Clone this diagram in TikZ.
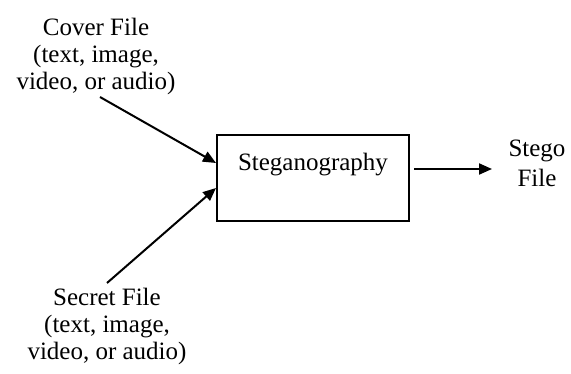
\documentclass[tikz,border=0pt]{standalone}
\usepackage{fontspec}
\setmainfont{Liberation Serif}
\usetikzlibrary{arrows.meta}
\begin{document}
\begin{tikzpicture}[x=1pt,y=-1pt,
  lbl/.style={align=center,font=\fontsize{25}{27}\selectfont,inner sep=0pt},
  conn/.style={line width=2pt,-{Triangle[length=13pt,width=11pt]}}]
\useasboundingbox (0,0) rectangle (571,374);
\node[draw,line width=1.5pt,minimum width=192pt,minimum height=86pt,inner sep=0pt] (box) at (313,178) {};
\node[lbl] (steg) at (313,165) {Steganography};
\node[lbl] (cover) at (96,56) {Cover File\\(text, image,\\video, or audio)};
\node[lbl] (secret) at (107,326) {Secret File\\(text, image,\\video, or audio)};
\node[lbl,font=\fontsize{25}{30}\selectfont] (stego) at (537,163) {Stego\\File};
\coordinate (c0) at (100,97);
\coordinate (c1) at (216,163);
\coordinate (s0) at (107,283);
\coordinate (s1) at (216,188);
\coordinate (o0) at (414,169);
\coordinate (o1) at (492,169);
\draw[conn] (c0) -- (c1);
\draw[conn] (s0) -- (s1);
\draw[conn] (o0) -- (o1);
\end{tikzpicture}
\end{document}
